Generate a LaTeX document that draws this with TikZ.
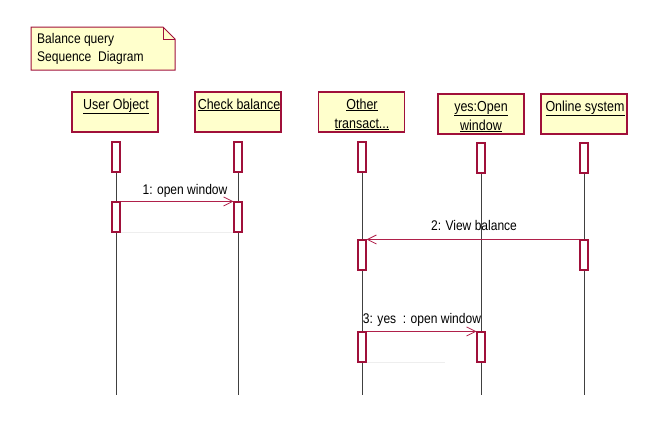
\documentclass[tikz,border=0pt]{standalone}
\usepackage{fontspec}
\setmainfont{Liberation Sans}[FakeStretch=0.86]
\usetikzlibrary{arrows.meta}
\definecolor{bord}{HTML}{A0103A}
\definecolor{objfill}{HTML}{FFFFCC}
\definecolor{life}{HTML}{404040}
\definecolor{msg}{HTML}{B0204A}
\definecolor{faint}{HTML}{EEEEEE}
\begin{document}
\begin{tikzpicture}[x=1pt,y=-1pt,
  font=\fontsize{14}{19}\selectfont,
  obj/.style={draw=bord, line width=1.4pt, fill=objfill, minimum width=86pt, minimum height=40pt, inner sep=0pt},
  txt/.style={anchor=base, inner sep=0pt, font=\fontsize{14.5}{19}\selectfont},
  act/.style={draw=bord, line width=1.1pt, fill=white, minimum width=8pt, minimum height=30pt, inner sep=0pt},
  lifeline/.style={draw=life, line width=1pt},
  msgline/.style={draw=msg, line width=0.8pt, -{Straight Barb[length=9pt,width=9pt,line width=0.8pt]}},
  msglabel/.style={anchor=base, inner sep=0pt},
  retline/.style={draw=faint, line width=0.8pt},
]
\useasboundingbox (0,0) rectangle (647,439);
% note
\draw[draw=bord, line width=1pt, fill=objfill] (31,27) -- (163,27) -- (175,39) -- (175,70) -- (31,70) -- cycle;
\draw[draw=bord, line width=1pt] (163,27) -- (163,39) -- (175,39);
\node[anchor=base west, inner sep=0pt] (note1) at (37,43) {Balance query};
\node[anchor=base west, inner sep=0pt] (note2) at (37,61) {Sequence\ \ Diagram};
% objects
\node[obj] (u) at (115,112) {};
\node[txt] (ut) at (116,109) {\underline{User Object}};
\node[obj] (c) at (238,112) {};
\node[txt] (ct) at (239,109) {\underline{Check balance}};
\node[obj] (o) at (361.5,112) {};
\node[txt] (ot1) at (362,109) {\underline{Other}};
\node[txt] (ot2) at (362,128) {\underline{transact...}};
\node[obj] (y) at (481,114) {};
\node[txt] (yt1) at (481,111) {\underline{yes:Open}};
\node[txt] (yt2) at (481,130) {\underline{window}};
\node[obj] (n) at (584,114) {};
\node[txt] (nt) at (585,111) {\underline{Online system}};
% lifeline ends
\coordinate (ue) at (116,395);
\coordinate (ce) at (238,395);
\coordinate (oe) at (362,395);
\coordinate (ye) at (481,395);
\coordinate (ne) at (584,395);
\coordinate (us) at (116,142);
\coordinate (cs) at (238,142);
\coordinate (os) at (362,142);
\coordinate (ys) at (481,143);
\coordinate (ns) at (584,143);
\draw[lifeline] (us) -- (ue);
\draw[lifeline] (cs) -- (ce);
\draw[lifeline] (os) -- (oe);
\draw[lifeline] (ys) -- (ye);
\draw[lifeline] (ns) -- (ne);
% activations
\node[act] (ua1) at (116,157) {};
\node[act] (ua2) at (116,217) {};
\node[act] (ca1) at (238,157) {};
\node[act] (ca2) at (238,217) {};
\node[act] (oa1) at (362,157) {};
\node[act] (oa2) at (362,255) {};
\node[act] (oa3) at (362,347) {};
\node[act] (ya1) at (481,158) {};
\node[act] (ya2) at (481,347) {};
\node[act] (na1) at (584,158) {};
\node[act] (na2) at (584,255) {};
% faint returns
\draw[retline] (ua2.south east) -- (ca2.south west);
\draw[retline] (oa3.south east) -- ++(78,0) coordinate (r3);
% messages
\draw[msgline] (ua2.north east) -- (ca2.north west);
\draw[msgline] (na2.north west) -- (oa2.north east);
\draw[msgline] (oa3.north east) -- (ya2.north west);
\node[msglabel] (m1) at (185,194) {1: open window};
\node[msglabel] (m2) at (474,230) {2: View balance};
\node[msglabel] (m3) at (422,323) {3: yes\ \ : open window};
\end{tikzpicture}
\end{document}
